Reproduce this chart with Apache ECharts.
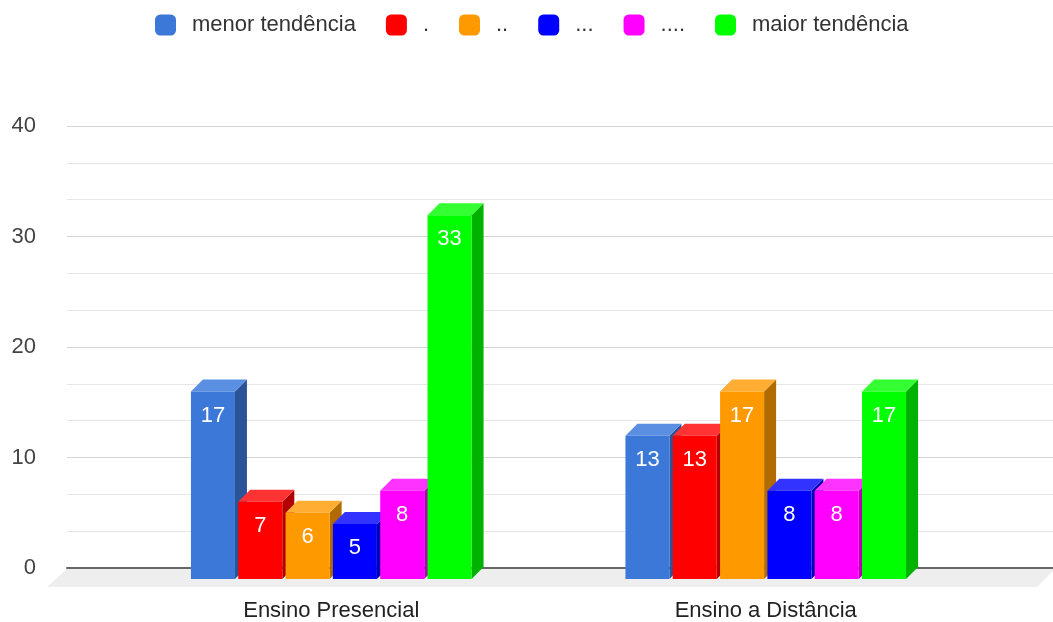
<!DOCTYPE html>
<html>
<head>
<meta charset="utf-8">
<script src="https://cdn.jsdelivr.net/npm/echarts@6/dist/echarts.min.js"></script>
<style>
html,body{margin:0;padding:0;background:#fff;}
#chart{width:1053px;height:622px;}
</style>
</head>
<body>
<div id="chart"></div>
<script>
// ---- data ----
const categories = ['Ensino Presencial', 'Ensino a Distância'];
const seriesNames = ['menor tendência', '.', '..', '...', '....', 'maior tendência'];
const menorTendencia = [17, 13];
const nivel2 = [7, 13];
const nivel3 = [6, 17];
const nivel4 = [5, 8];
const nivel5 = [8, 8];
const maiorTendencia = [33, 17];
const yTicks = [0, 10, 20, 30, 40];

// ---- style ----
const frontColors = ['#3c78d8', '#ff0000', '#ff9900', '#0000ff', '#ff00ff', '#00ff00'];
const topColors   = ['#5b8fe2', '#ff3333', '#ffad33', '#3333ff', '#ff33ff', '#33ff33'];
const sideColors  = ['#2a5497', '#b20000', '#b26b00', '#0000b2', '#b200b2', '#00b200'];
const FONT = 'Liberation Sans, Arial, sans-serif';
const DEPTH = 12;

const allValues = [menorTendencia, nivel2, nivel3, nivel4, nivel5, maiorTendencia];

function renderBar(params, api) {
  const s = params.seriesIndex;
  const cat = api.value(0);
  const val = api.value(1);
  const c = api.coord([cat, val]);
  const c0 = api.coord([cat, 0]);
  const band = api.size([1, 0])[0];
  const pitch = band * 0.1089;
  const w = band * 0.1013;
  const xc = c[0] + (s - 2.5) * pitch;
  const left = xc - w / 2;
  const top = c[1];
  const bottom = c0[1];
  const d = DEPTH;
  return {
    type: 'group',
    children: [
      { type: 'polygon', shape: { points: [[left + w, top], [left + w + d, top - d], [left + w + d, bottom - d], [left + w, bottom]] },
        style: { fill: sideColors[s] } },
      { type: 'polygon', shape: { points: [[left, top], [left + d, top - d], [left + w + d, top - d], [left + w, top]] },
        style: { fill: topColors[s] } },
      { type: 'rect', shape: { x: left, y: top, width: w, height: bottom - top },
        style: { fill: frontColors[s] } },
      { type: 'text', style: { text: String(val), x: xc, y: top + 24, fill: '#ffffff',
        font: '22px ' + FONT, align: 'center', verticalAlign: 'middle' } }
    ]
  };
}

const series = seriesNames.map((name, i) => ({
  name: name,
  type: 'custom',
  xAxisIndex: 1,
  yAxisIndex: 1,
  itemStyle: { color: frontColors[i] },
  renderItem: renderBar,
  encode: { x: 0, y: 1 },
  data: allValues[i].map((v, k) => [k, v])
}));

const chart = echarts.init(document.getElementById('chart'), null, { renderer: 'canvas' });
chart.setOption({
  animation: false,
  backgroundColor: '#ffffff',
  textStyle: { fontFamily: FONT },
  legend: {
    left: 150, top: 9,
    icon: 'roundRect',
    itemWidth: 21, itemHeight: 21,
    itemGap: 30,
    textStyle: { fontSize: 22, fontFamily: FONT, color: '#333333', padding: [0, 0, 0, 11] },
    data: seriesNames
  },
  graphic: [{
    type: 'polygon', z: 0, silent: true,
    shape: { points: [[67, 569], [1053, 569], [1053, 571], [1037, 587], [47, 587]] },
    style: { fill: '#eeeeee' }
  }],
  grid: [
    { left: 67, right: 0, top: 126, bottom: 54 },
    { left: 114, right: 70, top: 138, bottom: 42 }
  ],
  xAxis: [
    { gridIndex: 0, type: 'value', min: 0, max: 1,
      axisLine: { show: true, onZero: false, lineStyle: { color: '#666666', width: 2 } },
      axisTick: { show: false }, axisLabel: { show: false }, splitLine: { show: false } },
    { gridIndex: 1, type: 'category', data: categories,
      axisLine: { show: false }, axisTick: { show: false }, splitLine: { show: false },
      axisLabel: { margin: 21, fontSize: 22, fontFamily: FONT, color: '#222222' } }
  ],
  yAxis: [
    { gridIndex: 0, type: 'value', min: yTicks[0], max: yTicks[yTicks.length - 1], interval: 10,
      axisLine: { show: false }, axisTick: { show: false },
      axisLabel: { margin: 31, fontSize: 22, fontFamily: FONT, color: '#444444' },
      splitLine: { show: true, lineStyle: { color: '#d4d4d4', width: 1 } },
      minorTick: { show: false, splitNumber: 3 },
      minorSplitLine: { show: true, lineStyle: { color: '#e6e6e6', width: 1 } } },
    { gridIndex: 1, type: 'value', min: yTicks[0], max: yTicks[yTicks.length - 1], interval: 10, show: false }
  ],
  series: series
});
</script>
</body>
</html>
